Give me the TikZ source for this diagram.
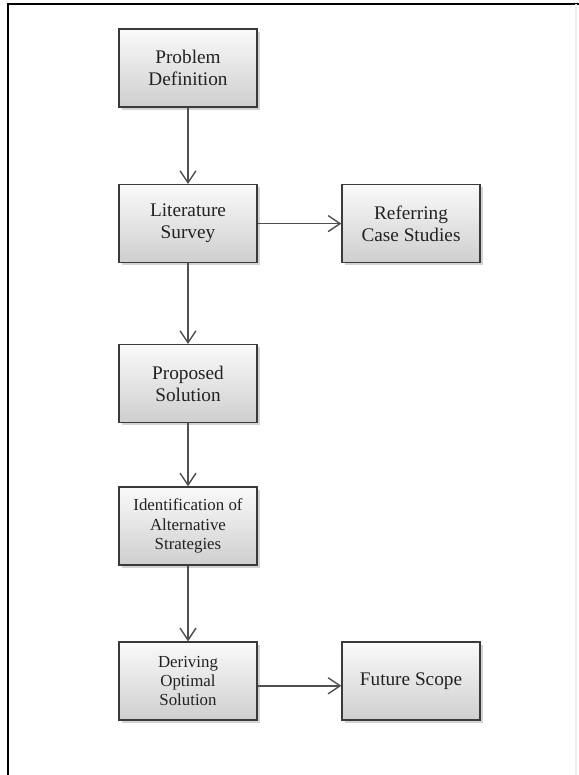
\documentclass[tikz,border=0pt]{standalone}
\usepackage{fontspec}
\setmainfont{Liberation Serif}
\usetikzlibrary{arrows.meta,shadows}
\definecolor{boxline}{HTML}{3A3A3A}
\definecolor{arrline}{HTML}{505050}
\definecolor{boxtext}{HTML}{222222}

\begin{document}
\begin{tikzpicture}[
    box/.style={draw=boxline, line width=0.9pt, minimum width=3.45cm, minimum height=1.95cm,
        inner sep=0pt, align=center, text=boxtext, top color=gray!4, bottom color=gray!38,
        drop shadow={shadow xshift=0.7mm, shadow yshift=-0.7mm, opacity=0.35},
        font=\fontsize{13.7}{15.6}\selectfont},
    smallbox/.style={box, font=\fontsize{12}{13.8}\selectfont},
    arr/.style={draw=arrline, line width=1pt, -{Straight Barb[length=3mm,width=4mm]}}
]
    \useasboundingbox (0,0) rectangle (14.475,-19.375);
    \draw[line width=1.4pt] (0.2,-19.375) -- (0.2,-0.1) -- (14.475,-0.1);
    \draw[gray!15, line width=1pt] (14.4,-0.1) -- (14.4,-19.375);

    \node[box] (problem) at (4.7,-1.7) {Problem\\Definition};
    \node[box] (survey) at (4.7,-5.59) {Literature\\Survey};
    \node[box] (cases) at (10.275,-5.59) {Referring\\Case Studies};
    \node[box] (proposed) at (4.7,-9.59) {Proposed\\Solution};
    \node[smallbox] (strategies) at (4.7,-13.15) {Identification of\\Alternative\\Strategies};
    \node[smallbox] (optimal) at (4.7,-17.025) {Deriving\\Optimal\\Solution};
    \node[box] (future) at (10.275,-17.025) {Future Scope};

    \draw[arr] (problem) -- (survey);
    \draw[arr] (survey) -- (cases);
    \draw[arr] (survey) -- (proposed);
    \draw[arr] (proposed) -- (strategies);
    \draw[arr] (strategies) -- (optimal);
    \draw[arr] ([yshift=-1.2mm]optimal.east) -- ([yshift=-1.2mm]future.west);
\end{tikzpicture}
\end{document}
